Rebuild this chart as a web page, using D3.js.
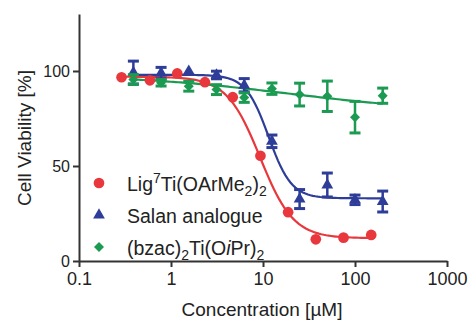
<!DOCTYPE html>
<html lang="en">
  <head>
    <meta charset="UTF-8" />
    <title>cell viability</title>
    <script src="https://d3js.org/d3.v7.min.js"></script>
    <style>
      body {
        margin: 0;
        background: #fff;
      }
      svg {
        font-family: "Liberation Sans", Arial, sans-serif;
      }
      .axis path,
      .axis line {
        stroke: #333;
        stroke-width: 2;
      }
      .axis text {
        fill: #222;
      }
    </style>
  </head>
  <body>
    <svg width="468" height="320"></svg>

    <script>
      // concentrations in uM
      const ligConc = [0.29, 0.59, 1.17, 2.34, 4.69, 9.38, 18.75, 37.5, 75, 150];
      const ligValues = [96.7, 95.1, 98.7, 94.1, 86.2, 55.4, 25.7, 11.4, 12.3, 13.7];
      const ligErr = [0, 0, 0, 0, 0, 0, 0, 0, 0, 0];

      const salanConc = [0.39, 0.78, 1.56, 3.125, 6.25, 12.5, 25, 50, 100, 200];
      const salanValues = [99.2, 98.9, 99.9, 97.9, 92.5, 63, 32.6, 40, 32.2, 31.3];
      const salanErr = [6, 3, 0, 2, 3.5, 3.3, 5, 6.3, 2.5, 5.5];

      const bzacConc = [0.39, 0.78, 1.56, 3.125, 6.25, 12.5, 25, 50, 100, 200];
      const bzacValues = [95.5, 93.8, 92, 90.2, 86, 90.7, 87.6, 86.7, 75.7, 87];
      const bzacErr = [2.6, 1.7, 2.6, 2.6, 2.5, 3, 6, 8, 8.3, 4];

      // fitted curves: [top, bottom, EC50, hill]
      const ligFit = [97, 12, 9.3, 2.4];
      const salanFit = [98, 33, 11.5, 3.5];
      const bzacFit = [98, 78, 20, 0.5];

      const xTicks = [0.1, 1, 10, 100, 1000];
      const yTicks = [0, 50, 100];

      const series = [
        { name: "lig", conc: ligConc, values: ligValues, err: ligErr, fit: ligFit, color: "#e8383d", shape: d3.symbolCircle, size: 90, rot: 0 },
        { name: "salan", conc: salanConc, values: salanValues, err: salanErr, fit: salanFit, color: "#2e3d98", shape: d3.symbolTriangle, size: 60, rot: 0 },
        { name: "bzac", conc: bzacConc, values: bzacValues, err: bzacErr, fit: bzacFit, color: "#1b9a52", shape: d3.symbolSquare, size: 50, rot: 45 },
      ];

      const svg = d3.select("svg");

      const xScale = d3.scaleLog().domain([0.1, 1000]).range([79, 447]);
      const yScale = d3.scaleLinear().domain([0, 130]).range([261, 14]);

      function logistic(p, x) {
        return p[1] + (p[0] - p[1]) / (1 + Math.pow(x / p[2], p[3]));
      }

      const line = d3
        .line()
        .x(function (d) {
          return xScale(d[0]);
        })
        .y(function (d) {
          return yScale(d[1]);
        });

      series.forEach(function (s) {
        const lo = Math.log10(d3.min(s.conc));
        const hi = Math.log10(d3.max(s.conc));
        const pts = d3.range(0, 101).map(function (i) {
          const x = Math.pow(10, lo + ((hi - lo) * i) / 100);
          return [x, logistic(s.fit, x)];
        });
        svg
          .append("path")
          .attr("d", line(pts))
          .attr("fill", "none")
          .attr("stroke", s.color)
          .attr("stroke-width", 2.2);
      });

      series.forEach(function (s) {
        const rows = s.conc.map(function (c, i) {
          return { c: c, v: s.values[i], e: s.err[i] };
        });
        const g = svg.append("g").attr("class", "series-" + s.name);
        const bars = rows.filter(function (d) {
          return d.e > 0;
        });
        g.selectAll(".stem")
          .data(bars)
          .enter()
          .append("line")
          .attr("x1", function (d) {
            return xScale(d.c);
          })
          .attr("x2", function (d) {
            return xScale(d.c);
          })
          .attr("y1", function (d) {
            return yScale(d.v - d.e);
          })
          .attr("y2", function (d) {
            return yScale(d.v + d.e);
          })
          .attr("stroke", s.color)
          .attr("stroke-width", 2.5);
        [-1, 1].forEach(function (sign) {
          g.selectAll(".cap" + sign)
            .data(bars)
            .enter()
            .append("line")
            .attr("x1", function (d) {
              return xScale(d.c) - 5.5;
            })
            .attr("x2", function (d) {
              return xScale(d.c) + 5.5;
            })
            .attr("y1", function (d) {
              return yScale(d.v + sign * d.e);
            })
            .attr("y2", function (d) {
              return yScale(d.v + sign * d.e);
            })
            .attr("stroke", s.color)
            .attr("stroke-width", 3);
        });
        g.selectAll(".mark")
          .data(rows)
          .enter()
          .append("path")
          .attr("d", d3.symbol().type(s.shape).size(s.size))
          .attr("transform", function (d) {
            return "translate(" + xScale(d.c) + "," + yScale(d.v) + ") rotate(" + s.rot + ")";
          })
          .attr("fill", s.color);
      });

      // axes
      const xAxis = d3
        .axisBottom(xScale)
        .tickValues(xTicks)
        .tickFormat(d3.format("~g"))
        .tickSize(6)
        .tickSizeOuter(0)
        .tickPadding(5);
      svg
        .append("g")
        .attr("class", "axis")
        .attr("transform", "translate(0,261)")
        .call(xAxis)
        .selectAll("text")
        .attr("font-size", 18);

      const yAxis = d3.axisLeft(yScale).tickValues(yTicks).tickSize(6).tickSizeOuter(0).tickPadding(3);
      svg
        .append("g")
        .attr("class", "axis")
        .attr("transform", "translate(79,0)")
        .call(yAxis)
        .selectAll("text")
        .attr("font-size", 16);

      svg
        .append("text")
        .attr("x", 262)
        .attr("y", 316)
        .attr("text-anchor", "middle")
        .attr("font-size", 19)
        .attr("fill", "#222")
        .text("Concentration [\u00b5M]");

      svg
        .append("text")
        .attr("transform", "translate(31,138) rotate(-90)")
        .attr("text-anchor", "middle")
        .attr("font-size", 19)
        .attr("fill", "#222")
        .text("Cell Viability [%]");

      // legend
      const legendY = [183, 215, 247];
      const legendParts = [
        [["Lig"], ["7", "sup"], ["Ti(OArMe"], ["2", "sub"], [")"], ["2", "sub"]],
        [["Salan analogue"]],
        [["(bzac)"], ["2", "sub"], ["Ti(O"], ["i", "it"], ["Pr)"], ["2", "sub"]],
      ];
      series.forEach(function (s, i) {
        svg
          .append("path")
          .attr("d", d3.symbol().type(s.shape).size(s.size))
          .attr("transform", "translate(99," + legendY[i] + ") rotate(" + s.rot + ")")
          .attr("fill", s.color);
        const t = svg
          .append("text")
          .attr("x", 127)
          .attr("y", legendY[i] + 8)
          .attr("font-size", 19.5)
          .attr("fill", "#222");
        let shift = 0;
        legendParts[i].forEach(function (p) {
          const span = t.append("tspan").text(p[0]);
          let target = 0;
          if (p[1] === "sup") {
            target = -8;
            span.attr("font-size", 14);
          } else if (p[1] === "sub") {
            target = 5;
            span.attr("font-size", 14);
          } else if (p[1] === "it") {
            span.attr("font-style", "italic");
          }
          span.attr("dy", target - shift);
          shift = target;
        });
      });
    </script>
  </body>
</html>
